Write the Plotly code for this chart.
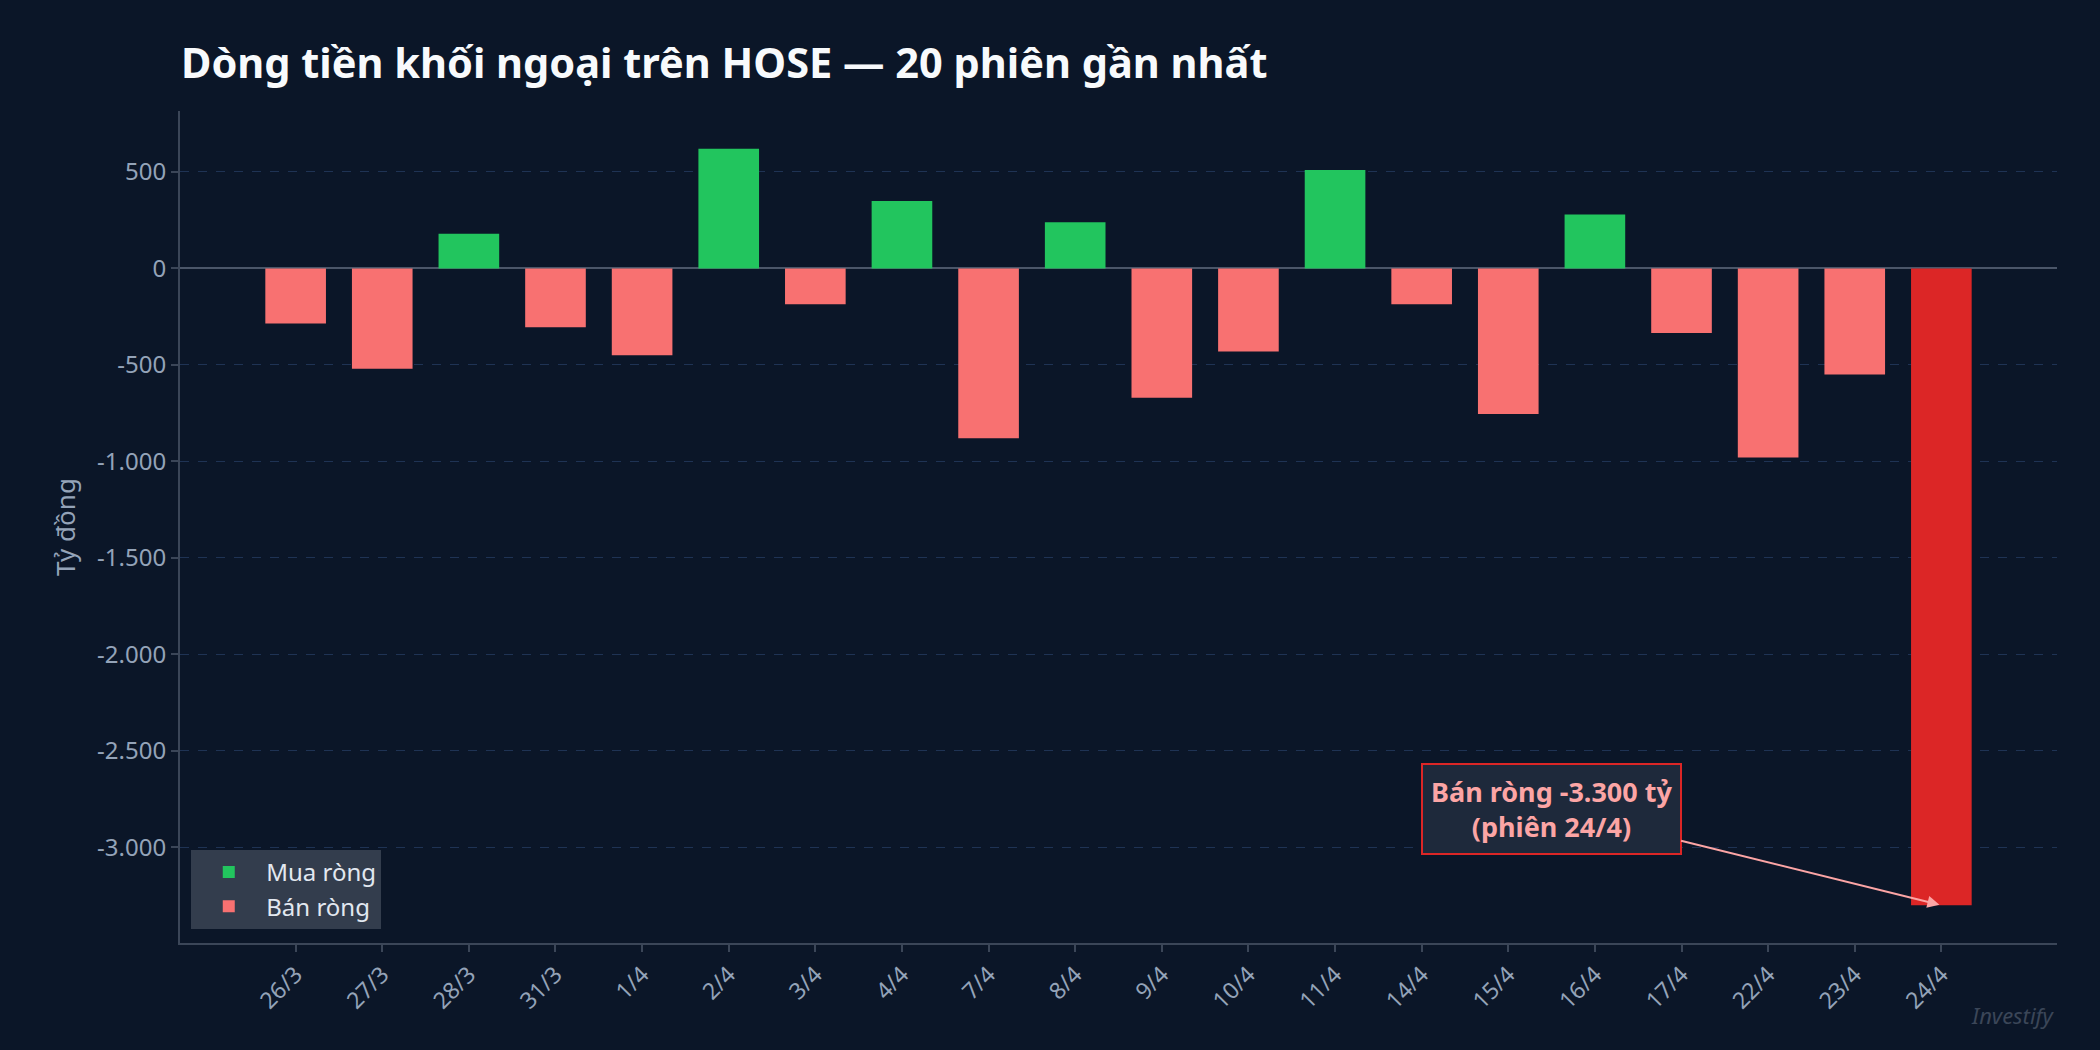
import plotly.graph_objects as go

# Dòng tiền khối ngoại trên HOSE, tỷ đồng
sessions = ['26/3', '27/3', '28/3', '31/3', '1/4', '2/4', '3/4', '4/4', '7/4', '8/4',
            '9/4', '10/4', '11/4', '14/4', '15/4', '16/4', '17/4', '22/4', '23/4', '24/4']
net_flow = [-285, -520, 180, -305, -450, 620, -185, 350, -880, 240,
            -670, -430, 510, -185, -755, 280, -335, -980, -550, -3300]

y_ticks = [500, 0, -500, -1000, -1500, -2000, -2500, -3000]
y_tick_labels = ['500', '0', '-500', '-1.000', '-1.500', '-2.000', '-2.500', '-3.000']

highlight = '24/4'
bg = '#0b1628'
font = 'Noto Sans'

buy = [v if v > 0 else None for v in net_flow]
sell = [v if v < 0 else None for v in net_flow]
sell_colors = ['#dc2626' if s == highlight else '#f87171' for s in sessions]

fig = go.Figure()
fig.add_trace(go.Bar(x=sessions, y=buy, name='Mua ròng', width=0.7,
                     marker=dict(color='#22c55e', line=dict(width=0))))
fig.add_trace(go.Bar(x=sessions, y=sell, name='Bán ròng', width=0.7,
                     marker=dict(color=sell_colors, line=dict(width=0))))

hi = sessions.index(highlight)
fig.add_annotation(x=hi, y=net_flow[hi], ax=14.5, ay=-2800, axref='x', ayref='y',
                   text='Bán ròng -3.300 tỷ<br>(phiên 24/4)',
                   font=dict(family=font, size=27, color='#fca5a5', weight='bold'),
                   bgcolor='#1e293b', bordercolor='#dc2626', borderwidth=2, borderpad=8,
                   showarrow=True, arrowhead=2, arrowsize=1.2, arrowwidth=2,
                   arrowcolor='#fca5a5', standoff=2)
fig.add_annotation(text='Investify', xref='paper', yref='paper', x=1, y=-0.087,
                   xanchor='right', yanchor='middle', showarrow=False,
                   font=dict(family=font, size=22, color='#3b4658', style='italic'))

fig.update_layout(
    width=2100, height=1050,
    paper_bgcolor=bg, plot_bgcolor=bg,
    barmode='overlay',
    margin=dict(l=180, r=43, t=111, b=107),
    title=dict(text='Dòng tiền khối ngoại trên HOSE — 20 phiên gần nhất',
               x=181 / 2100, xref='container', xanchor='left',
               y=1 - 63 / 1050, yref='container', yanchor='middle',
               font=dict(family=font, size=41.5, color='#f8fafc', weight='bold')),
    legend=dict(x=0.006, y=0.017, xanchor='left', yanchor='bottom',
                bgcolor='rgba(55,65,81,0.9)', borderwidth=0,
                font=dict(family=font, size=24, color='#e2e8f0'),
                itemwidth=65, tracegroupgap=4),
    font=dict(family=font, color='#94a3b8'),
    showlegend=True,
)
fig.update_xaxes(range=[-1.335, 20.335], tickangle=-45,
                 tickfont=dict(size=23, color='#94a3b8'),
                 showline=True, linecolor='#3b4658', linewidth=2,
                 ticks='outside', ticklen=7, tickcolor='#3b4658', tickwidth=2,
                 showgrid=False)
fig.update_yaxes(range=[-3496, 816], tickvals=y_ticks, ticktext=y_tick_labels,
                 tickfont=dict(size=24, color='#94a3b8'),
                 title=dict(text='Tỷ đồng', font=dict(size=26, color='#94a3b8'), standoff=14),
                 showline=True, linecolor='#3b4658', linewidth=2,
                 ticks='outside', ticklen=7, tickcolor='#3b4658', tickwidth=2,
                 showgrid=True, gridcolor='#1f3354', griddash='dash', gridwidth=1,
                 zeroline=True, zerolinecolor='#4b5669', zerolinewidth=2)

fig.write_html('out.html', config={'displayModeBar': False},
               post_script="document.body.style.margin='0';document.body.style.background='#0b1628';")
